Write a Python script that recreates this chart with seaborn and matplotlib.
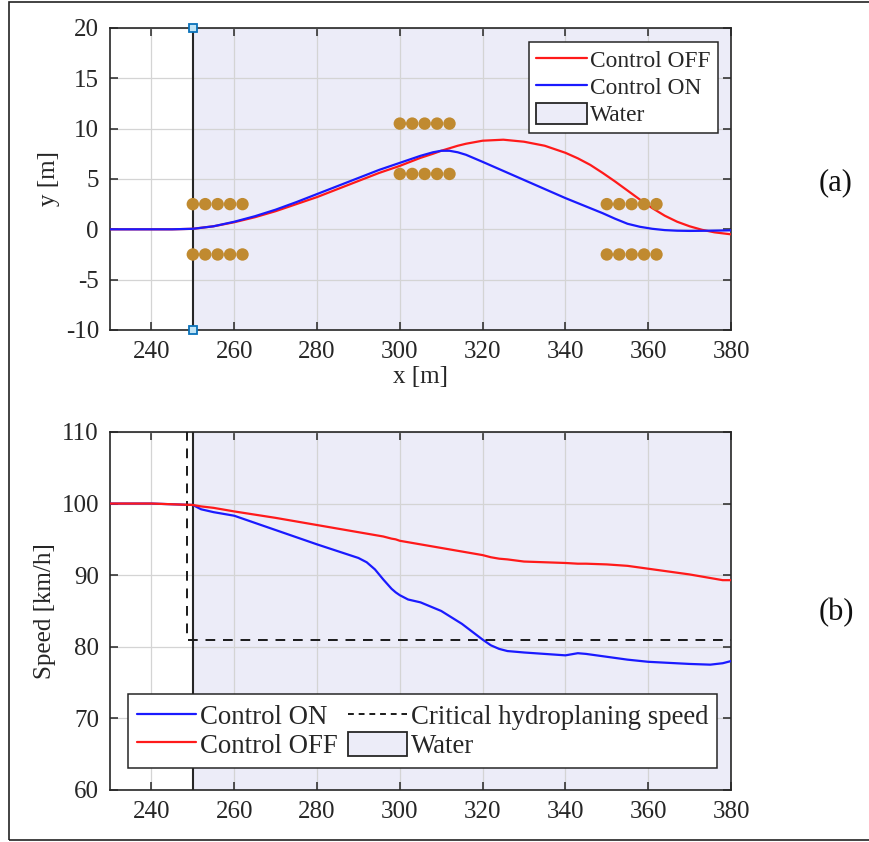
import numpy as np
import pandas as pd
import matplotlib
matplotlib.use("Agg")
import matplotlib.pyplot as plt
from matplotlib.patches import Patch, Rectangle
from matplotlib.lines import Line2D
import seaborn as sns

# ---- trajectory data (x [m], y [m]) ----
traj_x = [230, 245, 250, 255, 260, 265, 270, 275, 280, 285, 290, 295, 300, 305,
          308, 310, 312, 314, 316, 318, 320, 325, 330, 335, 340, 343, 346, 349,
          352, 355, 358, 361, 364, 367, 370, 373, 376, 380]
traj_on = [0.0, 0.0, 0.05, 0.3, 0.75, 1.3, 1.95, 2.7, 3.5, 4.3, 5.1, 5.9, 6.6, 7.3,
           7.65, 7.8, 7.8, 7.65, 7.4, 7.05, 6.7, 5.8, 4.9, 4.0, 3.1, 2.6, 2.1, 1.6,
           1.05, 0.55, 0.25, 0.05, -0.08, -0.14, -0.16, -0.15, -0.13, -0.1]
traj_off = [0.0, 0.0, 0.05, 0.3, 0.7, 1.2, 1.8, 2.5, 3.2, 4.0, 4.8, 5.6, 6.3, 7.1,
            7.5, 7.8, 8.05, 8.3, 8.5, 8.65, 8.8, 8.9, 8.7, 8.3, 7.6, 7.05, 6.4, 5.6,
            4.75, 3.85, 2.95, 2.1, 1.35, 0.75, 0.3, -0.05, -0.3, -0.5]

# ---- cone positions ----
cone_x = [250, 253, 256, 259, 262, 250, 253, 256, 259, 262,
          300, 303, 306, 309, 312, 300, 303, 306, 309, 312,
          350, 353, 356, 359, 362, 350, 353, 356, 359, 362]
cone_y = [2.5] * 5 + [-2.5] * 5 + [10.5] * 5 + [5.5] * 5 + [2.5] * 5 + [-2.5] * 5

# ---- speed data (x [m], speed [km/h]) ----
spd_x = [230, 240, 250, 252, 255, 260, 270, 280, 290, 292, 294, 296, 298, 299,
         300, 302, 305, 310, 315, 320, 322, 324, 326, 330, 335, 340, 343, 345,
         350, 355, 360, 370, 375, 378, 380]
spd_on = [100.0, 100.0, 99.8, 99.2, 98.8, 98.3, 96.3, 94.3, 92.4, 91.8, 90.8, 89.4,
          88.1, 87.6, 87.2, 86.6, 86.2, 85.0, 83.2, 81.0, 80.2, 79.7, 79.4, 79.2,
          79.0, 78.8, 79.1, 79.0, 78.6, 78.2, 77.9, 77.6, 77.5, 77.7, 78.0]
spd_off = [100.0, 100.0, 99.8, 99.6, 99.4, 98.9, 98.0, 97.0, 96.0, 95.8, 95.6, 95.4,
           95.1, 95.0, 94.8, 94.6, 94.3, 93.8, 93.3, 92.8, 92.5, 92.3, 92.2, 91.9,
           91.8, 91.7, 91.6, 91.6, 91.5, 91.3, 90.9, 90.1, 89.6, 89.3, 89.3]
crit_x = [248.5, 248.5, 380]
crit_y = [115, 81, 81]

water_start = 250
x_ticks = list(range(240, 381, 20))

sns.set_theme(style="ticks")
plt.rcParams["font.family"] = ["Liberation Serif", "DejaVu Serif"]
plt.rcParams["axes.unicode_minus"] = False

FS = 18
RED = "#FF1A1A"
BLUE = "#1A1AFF"
WATER = "#ECECF8"
EDGE = "#262626"
CONE = "#C08A30"

fig = plt.figure(figsize=(8.69, 8.42), dpi=100)
ax1 = fig.add_axes([0.1266, 0.6081, 0.7146, 0.3587])
ax2 = fig.add_axes([0.1266, 0.0618, 0.7146, 0.4252])

df_traj = pd.DataFrame({"x": traj_x, "on": traj_on, "off": traj_off})
df_cone = pd.DataFrame({"x": cone_x, "y": cone_y})
df_spd = pd.DataFrame({"x": spd_x, "on": spd_on, "off": spd_off})


def style_axes(ax):
    ax.grid(True, color="#D4D4D4", linewidth=0.9)
    for s in ax.spines.values():
        s.set_visible(True)
        s.set_color(EDGE)
        s.set_linewidth(1.2)
    ax.tick_params(direction="in", top=True, right=True, length=6, width=1.1,
                   color=EDGE, labelsize=FS, labelcolor="#262626", pad=8)
    ax.set_xlim(230, 380)
    ax.set_xticks(x_ticks)
    ax.axvspan(water_start, 400, facecolor=WATER, edgecolor="none", zorder=0.2)
    ax.axvline(water_start, color=EDGE, linewidth=1.5, zorder=3)


# ---- (a) trajectories ----
style_axes(ax1)
sns.lineplot(data=df_traj, x="x", y="off", ax=ax1, color=RED, linewidth=1.6,
             zorder=4, legend=False)
sns.lineplot(data=df_traj, x="x", y="on", ax=ax1, color=BLUE, linewidth=1.6,
             zorder=4, legend=False)
sns.scatterplot(data=df_cone, x="x", y="y", ax=ax1, color=CONE, s=80,
                edgecolor="none", zorder=5, legend=False)
ax1.plot([water_start, water_start], [20, -10], linestyle="none", marker="s",
         markersize=6, markerfacecolor="#BFE3F5", markeredgecolor="#0A72BA",
         markeredgewidth=1.3, zorder=6, clip_on=False)
ax1.set_ylim(-10, 20)
ax1.set_yticks(range(-10, 21, 5))
ax1.set_xlabel("x [m]", fontsize=FS, labelpad=2)
ax1.set_ylabel("y [m]", fontsize=FS, labelpad=4)

h1 = [Line2D([], [], color=RED, linewidth=1.6),
      Line2D([], [], color=BLUE, linewidth=1.6),
      Patch(facecolor=WATER, edgecolor=EDGE, linewidth=1.3)]
leg1 = ax1.legend(h1, ["Control OFF", "Control ON", "Water"], loc="upper right",
                  bbox_to_anchor=(0.979, 0.954), borderaxespad=0, fontsize=16.8,
                  frameon=True, fancybox=False, framealpha=1, edgecolor=EDGE,
                  handlelength=2.2, handleheight=1.0, handletextpad=0.15,
                  labelspacing=0.15, borderpad=0.3)
leg1.get_frame().set_linewidth(1.1)
leg1.set_zorder(10)

# ---- (b) speed ----
style_axes(ax2)
sns.lineplot(data=df_spd, x="x", y="on", ax=ax2, color=BLUE, linewidth=1.6,
             zorder=4, legend=False)
sns.lineplot(data=df_spd, x="x", y="off", ax=ax2, color=RED, linewidth=1.6,
             zorder=5, legend=False)
ax2.plot(crit_x, crit_y, color="#1A1A1A", linestyle=(0, (5, 4)), linewidth=1.4,
         zorder=4)
ax2.set_ylim(60, 110)
ax2.set_yticks(range(60, 111, 10))
ax2.set_xlabel("")
ax2.set_ylabel("Speed [km/h]", fontsize=FS, labelpad=4)

h2 = [Line2D([], [], color=BLUE, linewidth=1.6),
      Line2D([], [], color=RED, linewidth=1.6),
      Line2D([], [], color="#1A1A1A", linestyle=(0, (3, 2.5)), linewidth=1.4),
      Patch(facecolor=WATER, edgecolor=EDGE, linewidth=1.3)]
leg2 = ax2.legend(h2, ["Control ON", "Control OFF", "Critical hydroplaning speed", "Water"],
                  ncol=2, loc="lower left", bbox_to_anchor=(0.029, 0.061),
                  borderaxespad=0, fontsize=19.3, frameon=True, fancybox=False,
                  framealpha=1, edgecolor=EDGE, handlelength=2.2, handleheight=1.0,
                  handletextpad=0.15, labelspacing=0.05, borderpad=0.35,
                  columnspacing=0.35)
leg2.get_frame().set_linewidth(1.1)
leg2.set_zorder(10)

# panel labels
fig.text(0.962, 0.783, "(a)", fontsize=22, ha="center", va="center", color="#111111")
fig.text(0.962, 0.273, "(b)", fontsize=22, ha="center", va="center", color="#111111")

# outer frame
fig.add_artist(Rectangle((9 / 869, 2 / 842), 1.05, 1 - 4 / 842,
                         transform=fig.transFigure, fill=False,
                         edgecolor="#222222", linewidth=1.2))

fig.savefig("out.png", dpi=100)
